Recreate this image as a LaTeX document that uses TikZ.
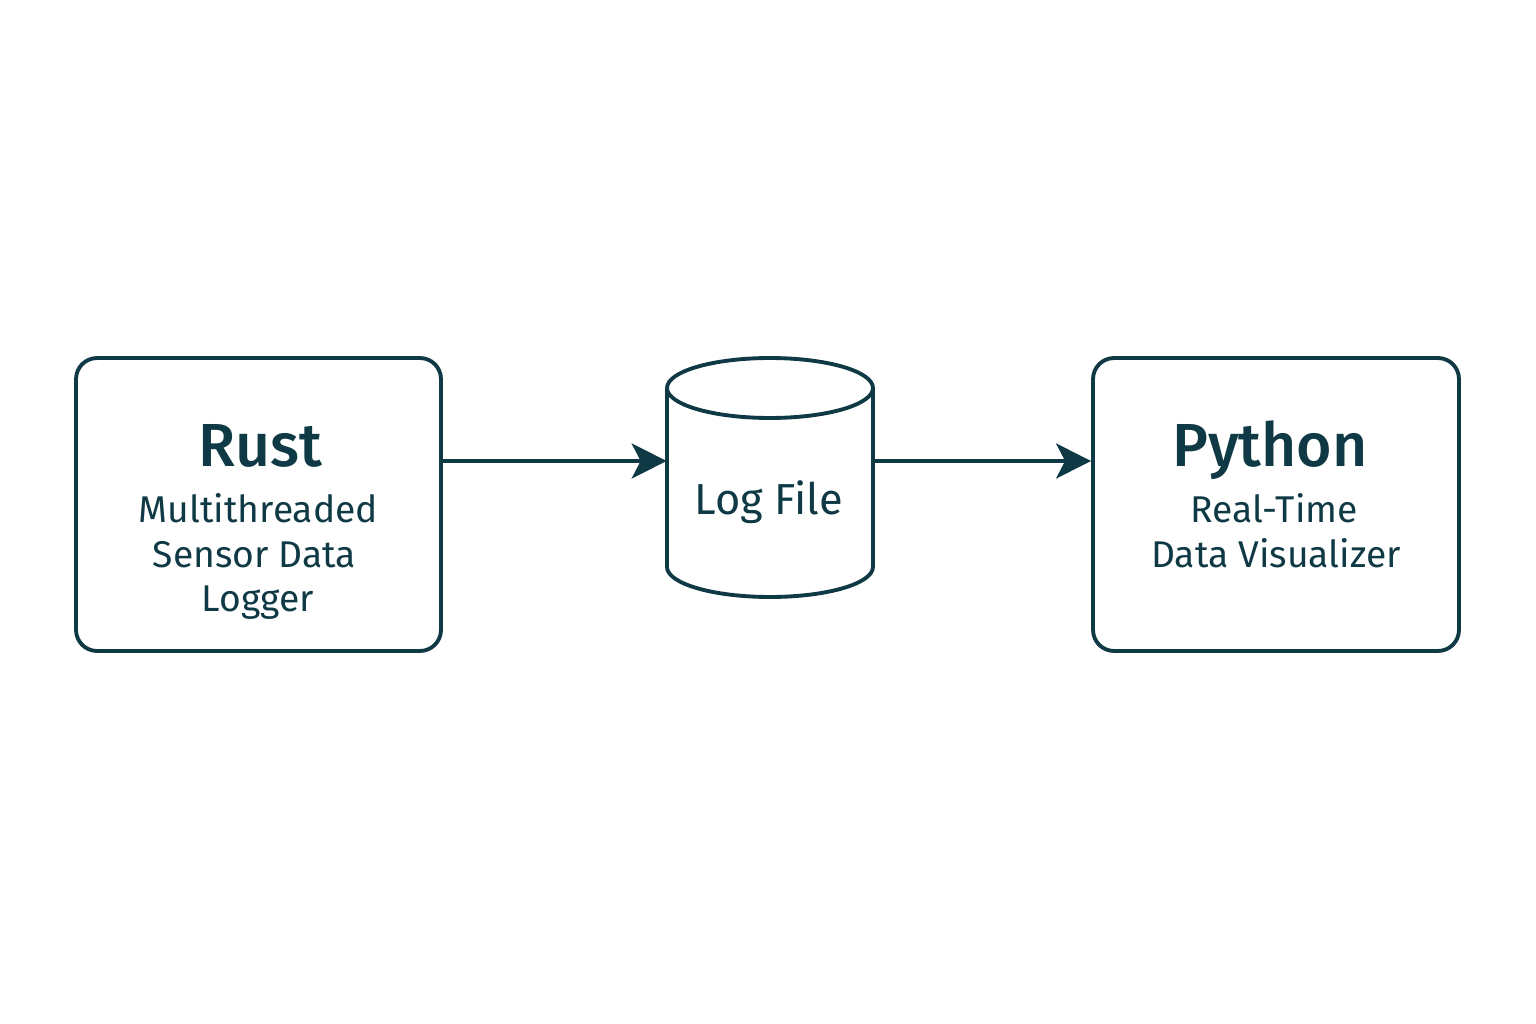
\documentclass[tikz,border=0pt]{standalone}
\usepackage{fontspec}
\setmainfont{Fira Sans}
\newfontfamily\titlefont{Fira Sans Medium}
\usetikzlibrary{arrows.meta}
\definecolor{ink}{HTML}{0F3A45}
\begin{document}
\begin{tikzpicture}[x=0.02cm,y=-0.02cm,
  box/.style={draw=ink, line width=2.2pt, rounded corners=0.42cm, minimum width=7.3cm, minimum height=5.86cm, inner sep=0pt},
  cyl/.style={draw=ink, line width=2.2pt},
  arr/.style={draw=ink, line width=2.1pt, -{Stealth[length=0.7cm, width=0.7cm, inset=0.18cm]}},
  title/.style={text=ink, font=\titlefont\fontsize{34.6}{40}\selectfont, anchor=base, inner sep=0pt},
  body/.style={text=ink, font=\fontsize{21.2}{25}\selectfont, anchor=base, inner sep=0pt},
  dbtext/.style={text=ink, font=\fontsize{24.7}{30}\selectfont, anchor=base, inner sep=0pt}
]
\useasboundingbox[fill=white] (0,0) rectangle (1536,1024);

\node[box] (rust) at (258.5,504.5) {};
\node[box, minimum width=7.32cm] (python) at (1276,504.5) {};
\node[minimum width=4.12cm, minimum height=4.78cm, inner sep=0pt] (db) at (770,477.5) {};

% cylinder
\draw[cyl] (667,388) -- (667,567) arc[start angle=180, end angle=360, x radius=2.06cm, y radius=0.6cm] -- (873,388);
\draw[cyl] (770,388) ellipse[x radius=2.06cm, y radius=0.6cm];

% texts
\node[title] (rustT) at (260,466) {Rust};
\node[body] (rust1) at (258.5,522) {Multithreaded};
\node[body] (rust2) at (254.5,567) {Sensor Data};
\node[body] (rust3) at (258,611) {Logger};

\node[title] (pyT) at (1270,466) {Python};
\node[body] (py1) at (1274,522) {Real-Time};
\node[body] (py2) at (1276,567) {Data Visualizer};

\node[dbtext] (dbT) at (769,514) {Log File};

% arrows
\coordinate (ay) at (0,461);
\draw[arr] (rust.east |- ay) -- (db.west |- ay);
\draw[arr] (db.east |- ay) -- (python.west |- ay);
\end{tikzpicture}
\end{document}
